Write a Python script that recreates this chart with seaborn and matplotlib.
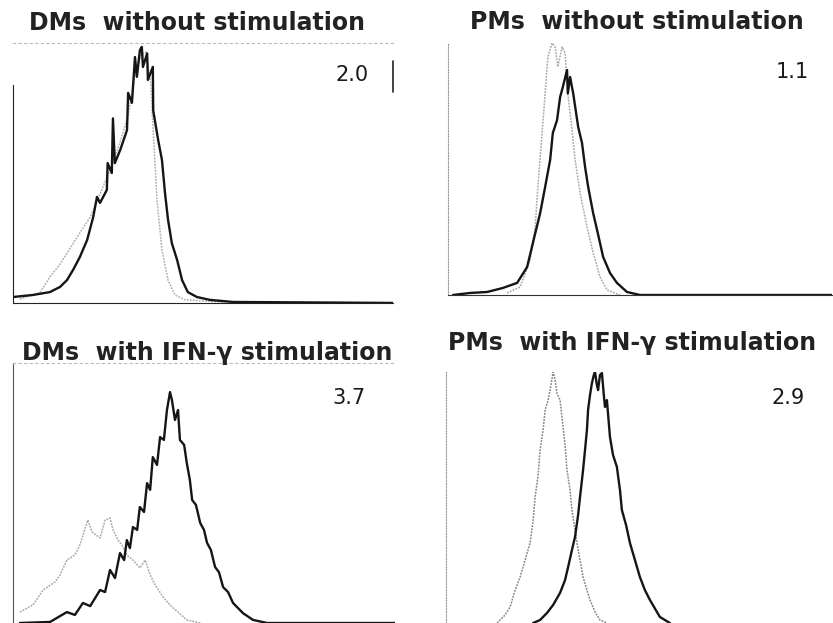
import pandas as pd
import matplotlib
matplotlib.use('Agg')
import matplotlib.pyplot as plt
import seaborn as sns

# ==========================================
# DATA (channel 0-100, count as % of axis height)
# ==========================================
TITLES = ["DMs  without stimulation", "PMs  without stimulation",
          "DMs  with IFN-\u03b3 stimulation", "PMs  with IFN-\u03b3 stimulation"]
MFI_LABELS = ["2.0", "1.1", "3.7", "2.9"]

# DMs without stimulation
p1_gray_x = [1.8, 7.1, 9.7, 12.4, 15.0, 17.6, 20.3, 22.9, 25.5, 28.2, 30.3, 32.1, 33.7, 35.0,
             36.3, 36.6, 37.9, 39.2, 40.8, 42.6, 45.3, 54.5, 100]
p1_gray_y = [1.5, 4.0, 10.0, 15.0, 21.0, 27.0, 33.0, 42.0, 51.0, 62.0, 72.0, 87.7, 95.4, 96.5,
             83.8, 74.0, 39.6, 20.4, 8.8, 3.1, 1.2, 0.4, 0.2]
p1_black_x = [0, 5.3, 9.7, 12.4, 14.2, 15.8, 17.6, 19.5, 21.1, 22.1, 22.9, 24.7, 24.9, 26.0,
              26.3, 26.8, 28.2, 30.0, 30.3, 31.3, 32.1, 32.6, 33.4, 33.9, 34.2, 35.3, 35.5,
              36.8, 36.9, 38.2, 39.2, 40.0, 40.8, 41.8, 43.2, 44.5, 46.0, 48.4, 51.8, 57.9, 100]
p1_black_y = [2.3, 3.1, 4.2, 6.2, 8.8, 12.7, 17.7, 24.2, 33.0, 40.8, 38.5, 43.5, 53.8, 50.0,
              71.0, 53.8, 58.8, 66.5, 80.8, 77.0, 94.6, 87.0, 97.3, 98.5, 90.8, 96.0, 85.8,
              90.8, 74.0, 62.7, 55.0, 42.3, 32.0, 23.0, 16.5, 8.8, 4.2, 2.3, 1.2, 0.4, 0.0]

# PMs without stimulation
p2_gray_x = [15.4, 18.8, 21.4, 22.7, 23.4, 24.5, 25.3, 26.0, 27.1, 27.9, 28.6, 29.7, 30.5, 31.2,
             32.3, 33.1, 34.4, 36.2, 37.8, 39.6, 41.4, 44.8]
p2_gray_y = [0.8, 3.2, 13.9, 27.0, 42.9, 64.3, 80.0, 94.4, 100, 98.4, 90.5, 98.4, 96.0, 80.0,
             65.5, 53.6, 40.5, 27.0, 16.7, 7.1, 2.0, 0.0]
p2_black_x = [1.3, 5.7, 10.2, 14.3, 18.0, 20.6, 22.1, 24.0, 25.3, 26.6, 27.3, 28.4, 29.2, 29.9,
              31.0, 31.2, 31.8, 32.6, 33.9, 34.9, 35.7, 36.5, 37.8, 39.0, 40.4, 42.2, 44.0,
              46.6, 50.0, 100]
p2_black_y = [0.0, 0.8, 1.2, 2.8, 4.8, 11.1, 20.6, 32.5, 42.9, 53.6, 64.3, 69.4, 78.6, 82.5,
              89.3, 80.0, 86.5, 80.0, 66.7, 60.3, 50.8, 42.9, 32.5, 24.6, 15.1, 8.7, 4.8,
              1.2, 0.0, 0.0]

# DMs with IFN-g stimulation
p3_gray_x = [1.8, 5.2, 7.9, 11.0, 12.3, 14.1, 16.2, 17.5, 19.6, 20.7, 22.8, 24.1, 25.4, 26.2,
             27.5, 28.5, 29.8, 31.4, 33.2, 34.6, 35.9, 37.2, 39.3, 41.1, 43.2, 45.5, 49.0]
p3_gray_y = [4.2, 6.9, 12.7, 15.8, 18.5, 24.2, 26.2, 30.0, 39.6, 35.0, 32.7, 39.6, 40.4, 35.8,
             31.9, 30.0, 26.2, 24.2, 21.2, 24.2, 18.5, 14.6, 10.0, 6.9, 4.2, 1.2, 0.0]
p3_black_x = [1.8, 9.7, 14.1, 16.2, 18.3, 20.2, 22.8, 24.1, 25.4, 26.7, 28.0, 29.1, 29.8, 30.6,
              31.4, 32.5, 33.2, 34.3, 35.1, 35.9, 36.6, 37.7, 38.5, 39.5, 40.3, 41.1, 41.6,
              42.4, 43.2, 43.7, 44.8, 45.5, 46.3, 46.9, 47.9, 49.0, 50.0, 50.8, 51.8, 52.9,
              53.9, 55.0, 56.3, 57.6, 60.2, 62.8, 66.5, 100]
p3_black_y = [0.0, 0.4, 4.2, 3.1, 7.7, 6.5, 12.7, 11.9, 20.4, 17.3, 26.9, 24.2, 31.9, 28.8,
              36.9, 35.8, 44.6, 42.7, 53.8, 51.2, 63.8, 60.8, 71.5, 70.4, 81.9, 88.8, 85.8,
              78.1, 81.9, 70.4, 68.5, 61.5, 55.0, 47.3, 45.4, 38.5, 35.8, 30.8, 28.1, 21.5,
              19.6, 13.8, 11.9, 7.7, 3.8, 1.2, 0.0, 0.0]

# PMs with IFN-g stimulation
p4_gray_x = [13.3, 15.4, 16.7, 18.0, 19.3, 20.6, 21.9, 22.7, 23.2, 24.0, 24.5, 25.3, 25.8, 26.6,
             27.1, 27.9, 28.4, 28.9, 29.7, 30.2, 31.0, 31.5, 32.3, 32.8, 33.6, 34.1, 34.9,
             35.7, 36.7, 37.5, 38.8, 40.1, 41.9]
p4_gray_y = [0.0, 3.2, 6.4, 13.1, 18.3, 25.1, 31.9, 41.0, 50.2, 59.0, 68.9, 76.9, 84.9, 88.8,
             92.8, 100, 96.8, 91.6, 88.8, 82.1, 70.9, 61.0, 53.0, 45.0, 37.1, 31.9, 25.1,
             18.3, 13.1, 9.2, 4.4, 1.2, 0.0]
p4_black_x = [22.7, 24.5, 26.3, 27.9, 29.7, 31.0, 31.8, 32.8, 33.6, 34.4, 34.9, 35.7, 36.2, 36.7,
              37.0, 37.5, 38.0, 38.5, 38.8, 39.3, 39.6, 40.1, 40.6, 41.1, 41.4, 41.9, 42.7,
              43.5, 44.5, 45.3, 45.8, 46.9, 47.9, 49.2, 50.5, 51.8, 53.1, 55.7, 58.3]
p4_black_y = [0.0, 1.2, 4.0, 7.2, 12.0, 17.1, 22.3, 29.1, 34.3, 43.0, 50.2, 61.0, 68.9, 76.9,
              84.9, 90.8, 95.6, 98.8, 100, 94.8, 92.8, 98.8, 99.6, 90.8, 86.1, 88.8, 74.1,
              66.9, 62.2, 53.0, 45.0, 39.0, 31.9, 25.1, 18.3, 13.1, 9.2, 2.4, 0.0]

PANELS = [
    (p1_gray_x, p1_gray_y, p1_black_x, p1_black_y),
    (p2_gray_x, p2_gray_y, p2_black_x, p2_black_y),
    (p3_gray_x, p3_gray_y, p3_black_x, p3_black_y),
    (p4_gray_x, p4_gray_y, p4_black_x, p4_black_y),
]
GRAY_COLORS = ["#b0b0b0", "#a8a8a8", "#a8a8a8", "#858585"]

# ==========================================
# LAYOUT (pixels of an 833x623 canvas)
# ==========================================
W, H = 833, 623
# left, top, right, bottom of each plotting box
BOXES = [(13, 43, 393, 303), (448, 43, 832, 295), (13, 363, 395, 623), (446, 372, 830, 623)]
TITLE_POS = [(197, 23), (637, 22), (207, 353), (632, 343)]
LABEL_POS = [(352, 75), (792, 72), (349, 398), (788, 398)]

sns.set_style("white")
plt.rcParams['font.family'] = ['DejaVu Sans']

fig = plt.figure(figsize=(W / 100, H / 100), dpi=100)

for i, (gx, gy, bx, by) in enumerate(PANELS):
    l, t, r, b = BOXES[i]
    ax = fig.add_axes([l / W, (H - b) / H, (r - l) / W, (b - t) / H])

    df_gray = pd.DataFrame({"channel": gx, "count": gy})
    df_black = pd.DataFrame({"channel": bx, "count": by})
    sns.lineplot(data=df_gray, x="channel", y="count", ax=ax, color=GRAY_COLORS[i],
                 linewidth=1.1, linestyle=(0, (1.2, 0.8)), estimator=None, sort=False)
    sns.lineplot(data=df_black, x="channel", y="count", ax=ax, color="#151515",
                 linewidth=1.7, estimator=None, sort=False)

    ax.set_xlim(0, 100)
    ax.set_ylim(0, 100)
    ax.set_xticks([])
    ax.set_yticks([])
    ax.set_xlabel("")
    ax.set_ylabel("")
    for s in ax.spines.values():
        s.set_visible(False)

    if i == 0:
        ax.spines['left'].set_visible(True)
        ax.spines['left'].set_color("#222222")
        ax.spines['left'].set_bounds(0, 84)
        ax.spines['bottom'].set_visible(True)
        ax.spines['bottom'].set_color("#222222")
        ax.spines['top'].set_visible(True)
        ax.spines['top'].set_color("#bbbbbb")
        ax.spines['top'].set_linestyle((0, (2, 3)))
        ax.axvline(100, ymin=0.81, ymax=0.93, color="#222222", linewidth=1.2, clip_on=False)
    elif i == 1:
        ax.spines['left'].set_visible(True)
        ax.spines['left'].set_color("#999999")
        ax.spines['left'].set_linestyle((0, (1, 1.5)))
        ax.spines['bottom'].set_visible(True)
        ax.spines['bottom'].set_color("#333333")
    elif i == 2:
        ax.spines['left'].set_visible(True)
        ax.spines['left'].set_color("#555555")
        ax.spines['left'].set_linestyle((0, (1.5, 1)))
        ax.spines['top'].set_visible(True)
        ax.spines['top'].set_color("#bbbbbb")
        ax.spines['top'].set_linestyle((0, (2, 3)))
    else:
        ax.spines['left'].set_visible(True)
        ax.spines['left'].set_color("#999999")
        ax.spines['left'].set_linestyle((0, (1, 1.5)))

    tx, ty = TITLE_POS[i]
    fig.text(tx / W, 1 - ty / H, TITLES[i], ha="center", va="center",
             fontsize=17, fontweight="bold", color="#222222")
    lx, ly = LABEL_POS[i]
    fig.text(lx / W, 1 - ly / H, MFI_LABELS[i], ha="center", va="center",
             fontsize=15, color="#1a1a1a")

fig.savefig("out.png", dpi=100)
